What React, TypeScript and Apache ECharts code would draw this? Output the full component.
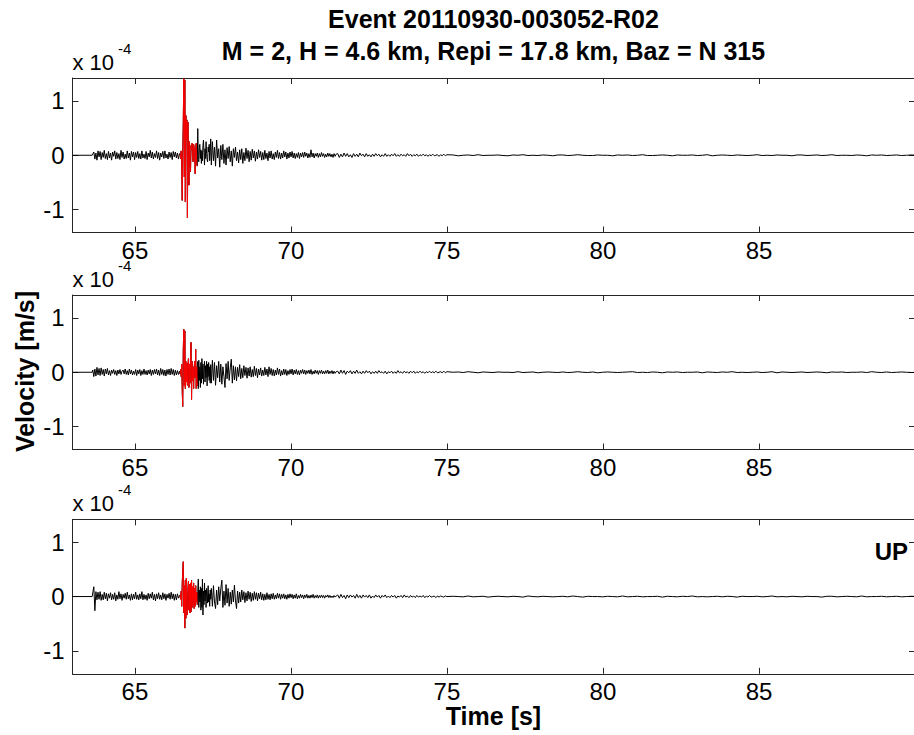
import React, { useEffect, useRef } from "react";
import * as echarts from "echarts";

// ---------- axis settings ----------
const X_MIN = 63;
const X_MAX = 90;
const Y_LIM = 1.42; // in units of 1e-4 m/s
const xTicks = [65, 70, 75, 80, 85];
const yTicks = [-1, 0, 1];
const redWindow = [66.44, 67.0];

const titleLine1 = "Event 20110930-003052-R02";
const titleLine2 = "M = 2, H = 4.6 km, Repi = 17.8 km, Baz = N 315";
const yName = "Velocity [m/s]";
const xName = "Time [s]";
const componentLabel = "UP";

// ---------- segment time spans (s) ----------
const leadSpan = [63.0, 63.63];
const preSpan = [63.65, 66.43];
const eventSpan = [66.45, 67.43];
const codaSpan = [67.45, 71.45];
const tailASpan = [71.5, 75.0];
const tailBSpan = [75.2, 90.05];

// ---------- trace values, in 1e-6 m/s ----------
const lead1 = [0, 0];
const pre1 = [0, 6, -7, 4, -9, 8, -3, 7, -8, 5, -4, 9, -6, 3, -8, 7, -5, 4, -9, 6, -2, 8, -7, 5, -6, 3, -8, 9, -4, 6, -7, 2, -6, 8, -5, 4, -9, 7, -3, 6, -8, 5, -4, 7, -6, 3, -7, 8, -5, 2, -6, 7, -8, 4, -3, 9, -5, 6, -7, 3, -4, 8, -6, 5, -9, 4, -3, 7, -6, 8, -5, 2, -7, 6, -4, 5, -8, 7, -3, 6, -5, 4, -7, 3];
const event1 = [2, -6, 8, -20, -83, 10, 60, 141, -40, 138, -86, 73, 30, 65, -115, 61, -20, -55, 25, -10, -30, 18, 10, 22, -5, -12, 20, 15, 5, -34, 10, 22, -15, -20, 49, -8, -12, 14, 20, -6, 10, -15, 8, -10, 18, 28, 5, -18, 12, -6, 25, 3, -8, -12, 15, 6, 20, -10, 8, 30];
const coda1 = [-18, 25, -10, 15, -20, 28, -5, 12, -22, 18, -8, 20, -15, 10, -18, 14, -6, 16, -12, 8, -20, 12, -4, 15, -10, 6, -14, 10, -8, 12, -15, 5, -10, 13, -6, 9, -12, 7, -9, 11, -5, 8, -11, 6, -7, 10, -4, 7, -9, 5, -8, 9, -6, 4, -10, 7, -5, 8, -7, 3, -8, 6, -4, 9, -6, 5, -7, 4, -5, 8, -3, 6, -7, 4, -5, 6, -3, 7, -5, 4, -6, 3, -4, 5, -6, 4, -3, 5, -4, 6, -2, 4, -5, 3, -4, 10, -3, 4, -5, 3, -2, 4, -4, 3, -3, 5, -2, 3, -4, 2, -3, 4, -2, 3, -3, 2, -4, 3, -2, 2];
const tailA1 = [3, -4, 2, -3, 4, -2, 3, -3, 1, -4, 3, -2, 2, -3, 4, -1, 2, -3, 3, -2, 1, -3, 2, -2, 3, -1, 2, -3, 1, -2, 3, -2, 1, -2, 2, -1, 3, -2, 1, -2, 2, -1, 1, -2, 3, -1, 2, -2, 1, -1, 2, -2, 1, -1, 2, -1, 1, -2, 1, -1, 2, -1, 0, 1, -2, 1, -1, 2, -1, 1];
const tailB1 = [0.5, -1, 0, 0.5, -0.5, 1, -0.5, 0, 0, 0.5, -0.5, -1, 0.5, 0, 1, -0.5, 0, -0.5, 0.5, 0, -1, 0.5, 0.5, -0.5, 0, 1, 0, -0.5, -0.5, 0.5, 0, 0, -1, 0.5, 0, 0.5, -0.5, 0, 1, -0.5, -0.5, 0, 0.5, 0, -1, 0.5, 0, 0, 0.5, -0.5, 0, 1, -1, 0, 0.5, 0, -0.5, 0.5, 0, -0.5, 0, 1, -0.5, 0, -0.5, 0.5, 0, 0, -1, 0.5, 0.5, -0.5, 0, 0.5, -0.5, 0, 1, -0.5, 0, 0, -0.5, 0.5, 0, -1, 0.5, 0, 0.5, -0.5, 0, 0.5, -0.5, 0, 0.5, 0];

const lead2 = [0, 0];
const pre2 = [4, -8, 6, -7, 9, -5, 7, -6, 8, -4, 5, -7, 6, -3, 7, -5, 3, -6, 4, -2, 5, -4, 3, -6, 4, -3, 5, -4, 2, 4, -3, 6, -4, 3, -5, 6, -3, 4, -5, 2, -4, 5, -6, 4, -3, 5, -6, 3, -4, 6, -4, 3, -5, 4, -3, 5, -6, 4, -4, 5, -3, 6, -5, 4, -6, 7, -4, 5, -6, 4, -7, 5, -4, 6, -5, 7, -4, 5, -6, 4, -5, 3, -4, 2];
const event2 = [-3, 5, -8, 15, -35, -63, 40, 79, -25, 76, -30, 20, -18, 17, -24, 12, 25, -28, 15, -20, 30, 55, -50, 20, -15, 10, -30, 8, 20, -10, 42, -30, 10, -25, 20, -30, 22, -15, 10, -28, 18, -20, 25, -12, 15, -22, 8, 20, -18, 12, -10, 20, -25, 15, -8, 18, -15, 10, -20, 14];
const coda2 = [-20, 22, -15, 18, -24, 12, -10, 20, -18, 15, -22, 10, -8, -28, 16, -12, 20, -15, 8, 24, -20, 12, -14, 10, -16, 9, -8, 14, -12, 7, -10, 12, -6, 9, -11, 8, -7, 10, -9, 5, -8, 11, -6, 7, -10, 6, -5, 8, -7, 4, -6, 9, -5, 6, -8, 10, -4, 7, -6, 5, -7, 4, -5, 8, -4, 6, -7, 3, -5, 6, -4, 5, -6, 3, -4, 5, -3, 6, -5, 4, -3, 5, -4, 3, -5, 4, -2, 5, -3, 4, -4, 3, -2, 4, -3, 5, -4, 2, -3, 4, -2, 3, -4, 3, -2, 4, -3, 2, -3, 3, -2, 4, -3, 2, -2, 3, -3, 2, -2, 1];
const tailA2 = [2, -3, 4, -2, 3, -4, 2, -1, 3, -3, 2, -2, 4, -2, 1, -3, 2, -2, 3, -1, 2, -3, 1, -2, 2, -2, 3, -1, 1, -2, 2, -3, 1, -1, 2, -2, 1, -2, 3, -1, 1, -2, 2, -1, 1, -2, 2, -1, 2, -2, 1, -1, 2, -1, 1, -2, 1, -1, 2, -1, 1, -1, 2, -1, 0, 1, -1, 2, -1, 1];
const tailB2 = [0, 0.5, -0.5, 1, 0, -1, 0.5, 0, -0.5, 0.5, 0, 0, -0.5, 1, -0.5, 0, 0.5, -1, 0, 0.5, 0, -0.5, 0.5, -0.5, 0, 1, 0, -0.5, 0.5, -1, 0, 0.5, 0, -0.5, 0, 0.5, 1, -0.5, 0, -0.5, 0.5, 0, -1, 0.5, 0, 0.5, -0.5, 0, 0, 0.5, -1, 0.5, 0, -0.5, 0.5, 0, 1, -0.5, 0, -0.5, 0, 0.5, -0.5, 0, 1, -1, 0.5, 0, -0.5, 0, 0.5, -0.5, 0, 0.5, 0, -1, 0.5, 0, 0.5, -0.5, 0, 0, 0.5, -0.5, 1, 0, -0.5, 0.5, -0.5, 0, 0.5, 0, -0.5, 0];

const lead3 = [0, 0];
const pre3 = [0, 18, -26, 9, -6, 8, -5, 9, -7, 4, -6, 8, -4, 6, -8, 5, -3, 7, -6, 4, -5, 7, -8, 3, -5, 9, -4, 5, -7, 4, -3, 6, -5, 8, -4, 3, -7, 5, -6, 4, -4, 8, -5, 3, -6, 5, -4, 9, -6, 4, -5, 3, -7, 6, -4, 5, -3, 8, -6, 4, -8, 5, -4, 7, -5, 3, -6, 7, -4, 5, -7, 4, -3, 6, -5, 8, -4, 5, -7, 4, -6, 5, -3, 1];
const event3 = [3, -5, 10, -18, 25, 45, 64, -30, 20, -58, 30, -40, 34, -20, -34, 15, 28, -25, 22, -30, 25, -28, 30, -20, 18, -15, 25, -22, 15, -18, 20, -10, 8, -15, 10, 32, -20, 12, -10, 18, -25, 15, -20, 32, -34, 10, -15, 25, -8, 12, -20, 15, 8, -12, 20, -10, 5, -18, 12, -5];
const coda3 = [15, -18, 20, -10, -22, 12, -15, 18, -8, 14, 30, -20, 10, -16, 22, -12, 15, -18, 8, -14, 12, -10, 21, -8, -22, 10, -12, 8, -10, 12, -6, 9, -11, 7, -8, 10, -5, 8, -9, 6, -7, 9, -5, 7, -8, 6, -4, 8, -6, 5, -7, 4, -6, 7, -5, 4, -6, 5, -4, 6, -5, 3, -4, 6, -3, 5, -5, 4, -3, 5, -4, 3, -5, 4, -3, 5, -2, 4, -4, 3, -3, 5, -4, 2, -3, 4, -2, 3, -4, 3, -2, 4, -3, 2, -3, 3, -2, 4, -3, 2, -2, 3, -3, 2, -2, 3, -2, 2, -3, 2, -1, 3, -2, 2, -2, 1, -2, 2, -1, 1];
const tailA3 = [3, -3, 4, -2, 2, -4, 3, -2, 3, -1, 2, -3, 4, -2, 2, -3, 3, -1, 2, -2, 3, -3, 1, -2, 3, -1, 2, -3, 2, -1, 3, -2, 1, -2, 2, -1, 2, -3, 1, -1, 2, -2, 3, -1, 1, -2, 2, -1, 1, -2, 2, -1, 1, -1, 2, -2, 1, -1, 2, -1, 0, 1, -2, 1, -1, 1, 0, -1, 1, 0];
const tailB3 = [0.5, 0, -0.5, 1, -0.5, 0, 0.5, -1, 0, 0.5, 0, -0.5, 0.5, 0, -1, 1, 0, -0.5, 0.5, 0, -0.5, 0, 0.5, -0.5, 1, 0, -1, 0.5, 0, 0, -0.5, 0.5, 0, -0.5, 1, -0.5, 0, 0.5, -0.5, 0, 0, 0.5, -1, 0.5, 0, -0.5, 0.5, 0, 1, -0.5, 0, -0.5, 0, 0.5, -0.5, 0.5, 0, -1, 0.5, 0, 0, 0.5, -0.5, 0, 1, -0.5, 0, -0.5, 0.5, 0, -0.5, 0.5, 0, 0, -1, 0.5, 0.5, -0.5, 0, 0.5, 0, -0.5, 1, -0.5, 0, 0, 0.5, -0.5, 0, 0.5, -0.5, 0, 0.5, 0];

// ---------- layout ----------
const FONT = "'Liberation Sans', Arial, Helvetica, sans-serif";
const GRID_LEFT = 72.5;
const GRID_WIDTH = 842.5;
const GRID_HEIGHT = 154.5;
const panelTops = [78, 295, 519.3];

type Pt = [number, number];

function segment(span: number[], vals: number[]): Pt[] {
  const n = vals.length;
  return vals.map((v, i) => [span[0] + ((span[1] - span[0]) * i) / (n - 1), v / 100] as Pt);
}

function buildTrace(parts: number[][]) {
  const spans = [leadSpan, preSpan, eventSpan, codaSpan, tailASpan, tailBSpan];
  const all: Pt[] = [];
  parts.forEach((vals, k) => all.push(...segment(spans[k], vals)));
  const red = all.filter((p) => p[0] >= redWindow[0] && p[0] <= redWindow[1]);
  return { all, red };
}

const traces = [
  buildTrace([lead1, pre1, event1, coda1, tailA1, tailB1]),
  buildTrace([lead2, pre2, event2, coda2, tailA2, tailB2]),
  buildTrace([lead3, pre3, event3, coda3, tailA3, tailB3]),
];

export default function App() {
  const ref = useRef<HTMLDivElement>(null);

  useEffect(() => {
    document.body.style.margin = "0";
    document.body.style.overflow = "hidden";
    if (!ref.current) return;
    const chart = echarts.init(ref.current, undefined, { renderer: "svg" });

    const lineStyle = { color: "#262626", width: 1 };
    const grid: any[] = [];
    const xAxis: any[] = [];
    const yAxis: any[] = [];
    const series: any[] = [];
    const graphic: any[] = [];

    panelTops.forEach((top, i) => {
      grid.push({
        left: GRID_LEFT,
        top,
        width: GRID_WIDTH,
        height: GRID_HEIGHT,
        containLabel: false,
        outerBoundsMode: "none",
      });
      xAxis.push({
        type: "value",
        gridIndex: i,
        min: X_MIN,
        max: X_MAX,
        position: "bottom",
        axisLine: { show: true, onZero: false, lineStyle },
        axisTick: { show: true, inside: true, length: 6, customValues: xTicks, lineStyle },
        axisLabel: {
          show: true,
          customValues: xTicks,
          fontSize: 24,
          fontFamily: FONT,
          color: "#000",
          margin: 6,
        },
        splitLine: { show: false },
      });
      xAxis.push({
        type: "value",
        gridIndex: i,
        min: X_MIN,
        max: X_MAX,
        position: "top",
        axisLine: { show: true, onZero: false, lineStyle },
        axisTick: { show: true, inside: true, length: 6, customValues: xTicks, lineStyle },
        axisLabel: { show: false },
        splitLine: { show: false },
      });
      yAxis.push({
        type: "value",
        gridIndex: i,
        min: -Y_LIM,
        max: Y_LIM,
        position: "left",
        axisLine: { show: true, onZero: false, lineStyle },
        axisTick: { show: true, inside: true, length: 6, customValues: yTicks, lineStyle },
        axisLabel: {
          show: true,
          customValues: yTicks,
          fontSize: 24,
          fontFamily: FONT,
          color: "#000",
          margin: 8,
        },
        splitLine: { show: false },
      });
      yAxis.push({
        type: "value",
        gridIndex: i,
        min: -Y_LIM,
        max: Y_LIM,
        position: "right",
        axisLine: { show: true, onZero: false, lineStyle },
        axisTick: { show: true, inside: true, length: 6, customValues: yTicks, lineStyle },
        axisLabel: { show: false },
        splitLine: { show: false },
      });
      series.push({
        type: "line",
        xAxisIndex: 2 * i,
        yAxisIndex: 2 * i,
        data: traces[i].all,
        showSymbol: false,
        symbol: "none",
        silent: true,
        lineStyle: { color: "#000000", width: 1 },
        z: 2,
      });
      series.push({
        type: "line",
        xAxisIndex: 2 * i,
        yAxisIndex: 2 * i,
        data: traces[i].red,
        showSymbol: false,
        symbol: "none",
        silent: true,
        lineStyle: { color: "#ff0000", width: 1 },
        z: 3,
      });
      graphic.push({
        type: "text",
        x: GRID_LEFT,
        y: top - 15.5,
        style: {
          text: "x 10",
          fontSize: 22,
          fontFamily: FONT,
          fill: "#000",
          align: "left",
          verticalAlign: "middle",
        },
      });
      graphic.push({
        type: "text",
        x: 118,
        y: top - 30,
        style: {
          text: "-4",
          fontSize: 15,
          fontFamily: FONT,
          fill: "#000",
          align: "left",
          verticalAlign: "middle",
        },
      });
    });

    const bold = (text: string, x: number, y: number, align: string, size: number, rotation = 0) => ({
      type: "text",
      x,
      y,
      rotation,
      z: 10,
      style: {
        text,
        fontSize: size,
        fontWeight: "bold",
        fontFamily: FONT,
        fill: "#000",
        align,
        verticalAlign: "middle",
      },
    });

    graphic.push(bold(titleLine1, 493.5, 18.5, "center", 25));
    graphic.push(bold(titleLine2, 493.5, 51, "center", 25));
    graphic.push(bold(xName, 493.5, 716, "center", 25));
    graphic.push(bold(yName, 25, 371.5, "center", 25, Math.PI / 2));
    graphic.push(bold(componentLabel, 908, 551.5, "right", 24));

    chart.setOption({
      animation: false,
      backgroundColor: "#ffffff",
      grid,
      xAxis,
      yAxis,
      series,
      graphic,
    });

    return () => chart.dispose();
  }, []);

  return <div ref={ref} style={{ width: 914, height: 735 }} />;
}
